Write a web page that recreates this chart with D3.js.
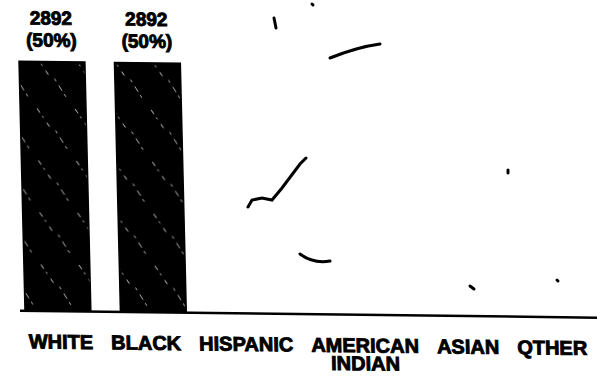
<!DOCTYPE html>
<html>
<head>
<meta charset="utf-8">
<script src="https://cdn.jsdelivr.net/npm/d3@7"></script>
<style>
  body { margin: 0; background: #fff; }
  svg { display: block; }
  text { font-family: "Liberation Sans", Arial, sans-serif; font-weight: bold; fill: #000; stroke: #000; stroke-width: 0.9px; }
</style>
</head>
<body>
<div class="chart"></div>
<script>
var categories = ["WHITE", "BLACK", "HISPANIC", "AMERICAN INDIAN", "ASIAN", "QTHER"]
var counts = [2892, 2892, 0, 0, 0, 0]
var percents = ["50%", "50%", "", "", "", ""]

// bits of dirt on the scanned page
var specks = [
  "M330,58 C345,52 365,46 380,44",
  "M248,207 L252,200 L262,198 L272,200 L282,188 L300,164 L306,158",
  "M300,254 C308,260 318,263 330,261",
  "M274,18 L276,28",
  "M312,4 L313,5",
  "M470,286 L474,289",
  "M557,280 L558,281",
  "M508,170 L508,173"
]

document.addEventListener("DOMContentLoaded", runD3)

function runD3() {
  var width = 597,
    height = 378,
    baseY = 310

  var svg = d3.select(".chart").append("svg")
    .attr("width", width)
    .attr("height", height)

  var defs = svg.append("defs")
  var pat = defs.append("pattern")
    .attr("id", "streaks")
    .attr("patternUnits", "userSpaceOnUse")
    .attr("width", 38)
    .attr("height", 52)
  pat.append("rect").attr("width", 38).attr("height", 52).attr("fill", "#000")
  pat.append("line")
    .attr("x1", 4).attr("y1", 4).attr("x2", 16).attr("y2", 22)
    .attr("stroke", "#fff").attr("stroke-width", 0.8)
    .attr("stroke-dasharray", "5 4 2 6")
  pat.append("line")
    .attr("x1", 22).attr("y1", 26).attr("x2", 33).attr("y2", 44)
    .attr("stroke", "#fff").attr("stroke-width", 0.7)
    .attr("stroke-dasharray", "3 5 6 4")

  // scanned page is slightly sheared
  var g = svg.append("g")
    .attr("transform", `translate(0,${baseY}) matrix(1,0.012,0.024,1,0,0) translate(0,${-baseY})`)

  var xScale = d3.scaleBand()
    .domain(categories)
    .range([25, 568])
    .paddingInner(0.31)
    .paddingOuter(0)

  var yScale = d3.scaleLinear()
    .domain([0, d3.max(counts)])
    .range([baseY, 61])

  var rows = categories.map(function(c, i) {
    return { cat: c, n: counts[i], pct: percents[i] }
  })

  g.selectAll(".bar")
    .data(rows.filter(function(d) { return d.n > 0 }))
    .enter().append("rect")
    .attr("class", "bar")
    .attr("x", function(d) { return xScale(d.cat) })
    .attr("y", function(d) { return yScale(d.n) })
    .attr("width", xScale.bandwidth())
    .attr("height", function(d) { return yScale(0) - yScale(d.n) })
    .attr("fill", "url(#streaks)")
    .attr("stroke", "#000")
    .attr("stroke-width", 1.5)

  var vals = g.selectAll(".val")
    .data(rows.filter(function(d) { return d.n > 0 }))
    .enter().append("text")
    .attr("class", "val")
    .attr("text-anchor", "middle")
    .style("font-size", "19px")
  vals.append("tspan")
    .attr("x", function(d) { return xScale(d.cat) + xScale.bandwidth() / 2 })
    .attr("y", function(d) { return yScale(d.n) - 37 })
    .text(function(d) { return d.n })
  vals.append("tspan")
    .attr("x", function(d) { return xScale(d.cat) + xScale.bandwidth() / 2 })
    .attr("y", function(d) { return yScale(d.n) - 15 })
    .text(function(d) { return "(" + d.pct + ")" })

  // baseline
  g.append("line")
    .attr("x1", 20)
    .attr("x2", width + 10)
    .attr("y1", yScale(0) + 0.5)
    .attr("y2", yScale(0) + 0.5)
    .attr("stroke", "#000")
    .attr("stroke-width", 2.5)

  // category labels set one after another like typed text
  var labels = g.append("g").attr("class", "labels")
  var cursor = 28,
    gap = 18
  categories.forEach(function(c) {
    var words = c.split(" ")
    var t = labels.append("text")
      .attr("y", 348)
      .style("font-size", "20px")
      .text(words[0])
    var w = t.node().getComputedTextLength()
    t.attr("x", cursor)
    if (words.length > 1) {
      labels.append("text")
        .attr("x", cursor + w / 2)
        .attr("y", 366)
        .attr("text-anchor", "middle")
        .style("font-size", "20px")
        .text(words.slice(1).join(" "))
    }
    cursor += w + gap
  })

  svg.append("g").attr("class", "specks")
    .selectAll("path")
    .data(specks)
    .enter().append("path")
    .attr("d", function(d) { return d })
    .attr("fill", "none")
    .attr("stroke", "#000")
    .attr("stroke-width", 3)
    .attr("stroke-linecap", "round")
}
</script>
</body>
</html>
